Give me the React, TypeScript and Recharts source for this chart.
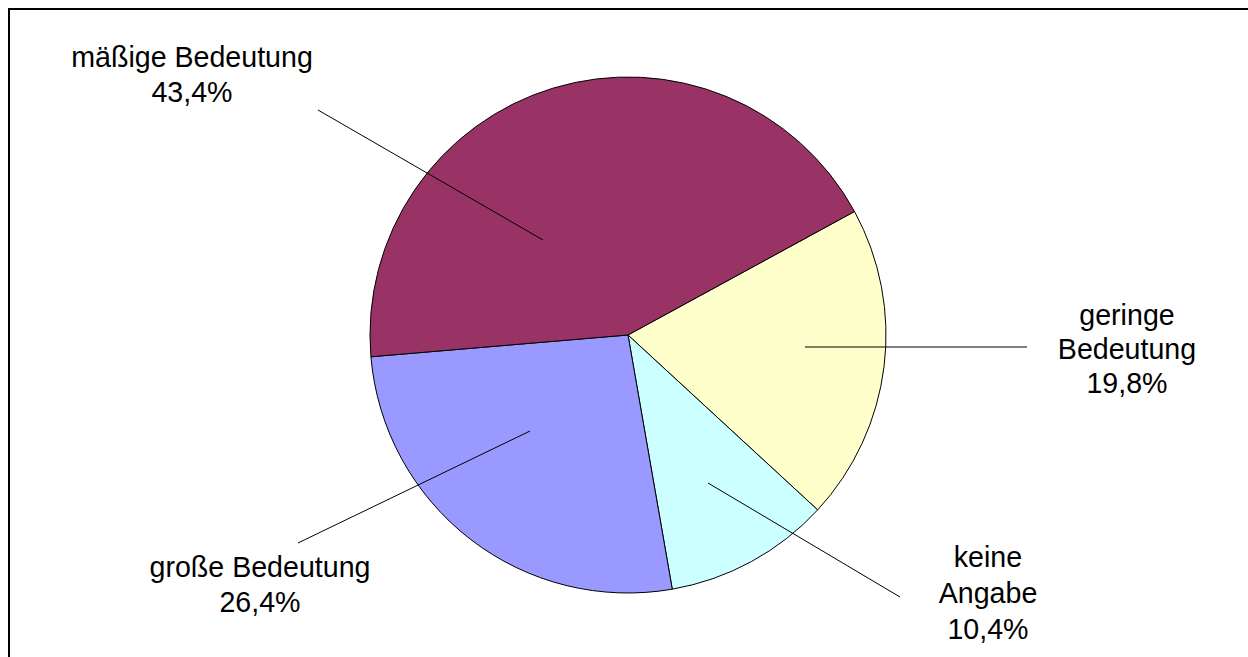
import { Pie, PieChart } from "recharts";

const categories = ["geringe Bedeutung", "keine Angabe", "große Bedeutung", "mäßige Bedeutung"];
const shares = [19.8, 10.4, 26.4, 43.4];
const labelLines = [["geringe", "Bedeutung", "19,8%"], ["keine", "Angabe", "10,4%"], ["große Bedeutung", "26,4%"], ["mäßige Bedeutung", "43,4%"]];
const colors = ["#FFFFCC", "#CCFFFF", "#9999FF", "#993366"];

// label placement relative to the pie centre (line from inside slice to text)
const labelLayout = [
  { line: [177, 12, 399, 12], x: 499, y: -10, lh: 34 },
  { line: [80, 148, 272, 262], x: 360, y: 232, lh: 36 },
  { line: [-98, 96, -330, 208], x: -368, y: 242, lh: 35 },
  { line: [-85, -95, -310, -225], x: -436, y: -268, lh: 35 },
];

const data = categories.map((name, i) => ({ name, value: shares[i], fill: colors[i] }));

const FONT = "'Liberation Sans', Arial, sans-serif";

function renderLabel(props: any) {
  const { cx, cy, index } = props;
  const l = labelLayout[index];
  const [x1, y1, x2, y2] = l.line;
  return (
    <g key={`lbl-${index}`}>
      <line x1={cx + x1} y1={cy + y1} x2={cx + x2} y2={cy + y2} stroke="#000" strokeWidth={1} />
      <text x={cx + l.x} y={cy + l.y} textAnchor="middle" fontFamily={FONT} fontSize={28.6} fill="#000">
        {labelLines[index].map((t, j) => (
          <tspan key={j} x={cx + l.x} dy={j === 0 ? 0 : l.lh}>
            {t}
          </tspan>
        ))}
      </text>
    </g>
  );
}

export default function App() {
  return (
    <div style={{ position: "absolute", left: 8, top: 8, width: 1240, height: 649, overflow: "hidden" }}>
      <div style={{ width: 1260, height: 680, border: "2px solid #000", background: "#fff", fontFamily: FONT }}>
        <PieChart width={1260} height={680} margin={{ top: 0, right: 0, bottom: 0, left: 0 }}>
          <Pie
            data={data}
            dataKey="value"
            nameKey="name"
            cx={618}
            cy={325}
            outerRadius={258}
            startAngle={28.6}
            endAngle={-331.4}
            stroke="#000"
            strokeWidth={1}
            label={renderLabel}
            labelLine={false}
            isAnimationActive={false}
          />
        </PieChart>
      </div>
    </div>
  );
}
